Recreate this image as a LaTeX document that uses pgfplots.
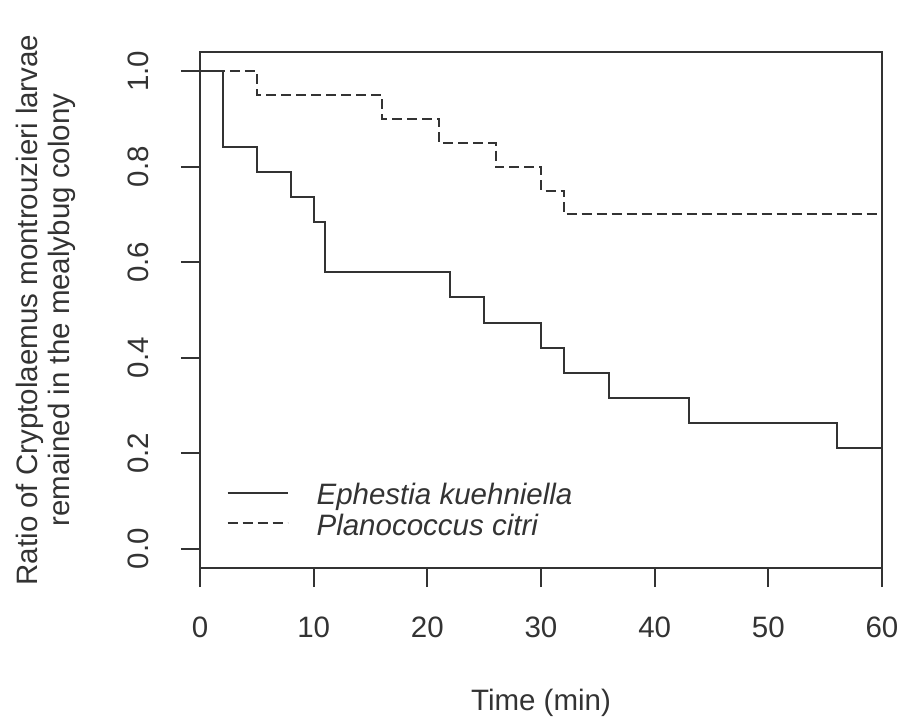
\documentclass[border=0pt]{standalone}
\usepackage{pgfplots}
\pgfplotsset{compat=1.18}
\usepackage{fontspec}
\setmainfont{Liberation Sans}
\definecolor{ink}{HTML}{333333}
\newcommand{\rfont}{\fontsize{29.5bp}{32bp}\selectfont}
\begin{document}
\begin{tikzpicture}
\useasboundingbox (-200bp,-153bp) rectangle (700bp,568bp);
\begin{axis}[
  at={(0,0)}, anchor=south west,
  scale only axis, width=682bp, height=516bp,
  xmin=0, xmax=60, ymin=-0.04, ymax=1.04,
  axis line style={ink, line width=1.9bp},
  every tick/.style={ink, line width=1.9bp},
  tick align=outside, major tick length=19bp,
  xtick pos=left, ytick pos=left,
  xtick={0,10,20,30,40,50,60},
  ytick={0,0.2,0.4,0.6,0.8,1.0},
  /pgf/number format/assume math mode=true,
  tick label style={font=\rfont, text=ink},
  xticklabel style={anchor=base, yshift=-50.8bp},
  yticklabel style={xshift=-32.5bp, rotate=90, anchor=base,
    /pgf/number format/.cd, fixed, fixed zerofill, precision=1},
  xlabel={Time (min)},
  xlabel style={at={(axis description cs:0.5,-0.2762)}, anchor=base, font=\rfont, text=ink},
  ylabel={Ratio of Cryptolaemus montrouzieri larvae\\remained in the mealybug colony},
  ylabel style={at={(axis description cs:-0.1815,0.5)}, anchor=south, inner sep=0pt,
    align=center, font=\rfont, text=ink, rotate=0},
  legend cell align=left,
  legend image code/.code={\draw[#1] (0bp,4bp) -- (60bp,4bp);},
  legend style={draw=none, fill=none, inner sep=0pt, outer sep=0pt,
    at={(axis description cs:0.039,0.168)}, anchor=north west,
    row sep=0pt, column sep=28bp,
    nodes={inner sep=0pt, text height=23bp, text depth=7.7bp, font=\rfont\itshape, text=ink}},
]
\addplot[const plot, ink, line width=2bp] coordinates {
  (0,1) (2,0.8421) (5,0.7895) (8,0.7368) (10,0.6842) (11,0.5789)
  (22,0.5263) (25,0.4737) (30,0.4211) (32,0.3684) (36,0.3158)
  (43,0.2632) (56,0.2105) (60,0.2105)};
\addlegendentry{Ephestia kuehniella}
\addplot[const plot, ink, line width=2bp, dash pattern=on 10bp off 5bp] coordinates {
  (0,1) (5,0.95) (16,0.9) (21,0.85) (26,0.8) (30,0.75) (32,0.7) (60,0.7)};
\addlegendentry{Planococcus citri}
\end{axis}
\end{tikzpicture}
\end{document}
